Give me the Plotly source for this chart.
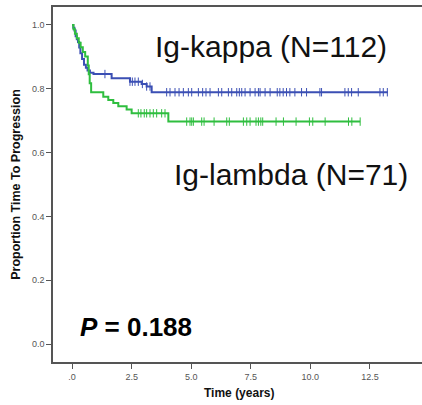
import numpy as np
import plotly.graph_objects as go

# ---- data ----
kappa_times = [0, 0.05, 0.1, 0.15, 0.2, 0.25, 0.3, 0.35, 0.42, 0.5, 0.58, 0.65, 0.75, 0.9, 1.66, 2.43, 2.92, 3.13, 3.34]
kappa_surv = [1.0, 0.991, 0.982, 0.964, 0.955, 0.946, 0.929, 0.911, 0.893, 0.875, 0.866, 0.857, 0.850, 0.846, 0.833, 0.822, 0.815, 0.807, 0.789]
kappa_end = 13.25
kappa_censor = [1.38, 2.43, 2.53, 2.64, 2.78, 2.95, 3.13, 3.27, 3.97, 4.11, 4.32, 4.49, 4.67, 4.88,
                5.02, 5.30, 5.48, 5.62, 5.79, 6.14, 6.28, 6.56, 6.70, 6.91, 7.02, 7.12, 7.26, 7.47,
                7.68, 7.82, 7.89, 8.10, 8.31, 8.61, 8.72, 8.86, 9.00, 9.14, 9.35, 9.63, 9.84, 10.40,
                10.47, 11.45, 11.59, 11.73, 12.01, 12.92, 13.06, 13.23]

lambda_times = [0, 0.06, 0.12, 0.2, 0.28, 0.36, 0.45, 0.55, 0.66, 0.7, 0.74, 0.8, 1.31, 1.52, 1.73, 1.94, 2.29, 2.5, 4.04]
lambda_surv = [1.0, 0.986, 0.972, 0.958, 0.944, 0.93, 0.915, 0.901, 0.873, 0.845, 0.817, 0.789, 0.775, 0.765, 0.755, 0.745, 0.735, 0.723, 0.697]
lambda_end = 12.09
lambda_censor = [2.78, 2.89, 3.03, 3.13, 3.27, 3.41, 3.55, 3.76, 3.90, 4.81, 4.95, 5.02, 5.09, 5.44,
                 5.54, 5.96, 6.49, 6.60, 7.19, 7.33, 7.47, 7.72, 7.82, 7.92, 8.00, 8.56, 8.87, 9.40,
                 9.96, 10.10, 10.62, 11.60, 11.74, 12.09]

y_ticks = [0.0, 0.2, 0.4, 0.6, 0.8, 1.0]
y_tick_labels = ["0.0", "0.2", "0.4", "0.6", "0.8", "1.0"]
x_ticks = [0, 2.5, 5.0, 7.5, 10.0, 12.5]
x_tick_labels = [".0", "2.5", "5.0", "7.5", "10.0", "12.5"]

label_kappa = "Ig-kappa (N=112)"
label_lambda = "Ig-lambda (N=71)"
p_text = "<b><i>P</i> = 0.188</b>"
x_title = "<b>Time (years)</b>"
y_title = "<b>Proportion Time To Progression</b>"

BLUE = "#3B4FB4"
GREEN = "#2FBE3F"
FONT = "Liberation Sans, Arial"


def step_value(times, surv, t):
    idx = np.searchsorted(np.asarray(times), t, side="right") - 1
    return np.asarray(surv)[idx]


fig = go.Figure()
for times, surv, end, cens, col in [
    (kappa_times, kappa_surv, kappa_end, kappa_censor, BLUE),
    (lambda_times, lambda_surv, lambda_end, lambda_censor, GREEN),
]:
    xs = list(times) + [end]
    ys = list(surv) + [surv[-1]]
    fig.add_trace(go.Scatter(x=xs, y=ys, mode="lines", line=dict(color=col, width=2, shape="hv"),
                             showlegend=False, hoverinfo="skip"))
    cy = [step_value(times, surv, c) for c in cens]
    fig.add_trace(go.Scatter(x=cens, y=cy, mode="markers",
                             marker=dict(symbol="line-ns-open", size=6, color=col,
                                         line=dict(color=col, width=1)),
                             showlegend=False, hoverinfo="skip"))

fig.add_annotation(x=8.33, y=0.931, xref="x", yref="y", text=label_kappa, showarrow=False,
                   xanchor="center", yanchor="middle", font=dict(family=FONT, size=30, color="#111"))
fig.add_annotation(x=9.19, y=0.530, xref="x", yref="y", text=label_lambda, showarrow=False,
                   xanchor="center", yanchor="middle", font=dict(family=FONT, size=30, color="#111"))
fig.add_annotation(x=2.68, y=0.053, xref="x", yref="y", text=p_text, showarrow=False,
                   xanchor="center", yanchor="middle", font=dict(family=FONT, size=26, color="#000"))
fig.add_annotation(x=0.4806, y=-0.0873, xref="paper", yref="paper", text=x_title, showarrow=False,
                   xanchor="center", yanchor="middle", font=dict(family=FONT, size=12, color="#111"))

axis_common = dict(showgrid=False, zeroline=False, showline=True, linecolor="#555", linewidth=1.5,
                   ticks="outside", ticklen=5, tickcolor="#555", tickwidth=1, automargin=False,
                   tickfont=dict(family=FONT, size=9, color="#555"))

fig.update_xaxes(range=[-0.8, 15.44], tickvals=x_ticks, ticktext=x_tick_labels, mirror=True,
                 **axis_common)
fig.update_yaxes(range=[-0.056, 1.056], tickvals=y_ticks, ticktext=y_tick_labels,
                 title=dict(text=y_title, font=dict(family=FONT, size=12.5, color="#111"), standoff=9),
                 **axis_common)

fig.update_layout(width=440, height=405, margin=dict(l=53, r=0, t=7, b=43),
                  plot_bgcolor="white", paper_bgcolor="white")

fig.write_html("out.html", config={"displayModeBar": False},
               post_script="document.body.style.margin='0';document.body.style.overflow='hidden';")
